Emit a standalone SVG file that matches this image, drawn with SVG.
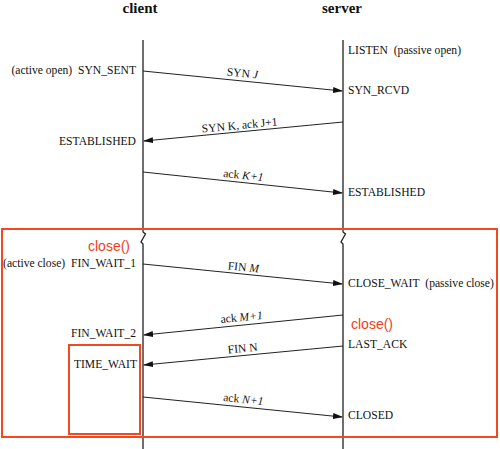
<svg xmlns="http://www.w3.org/2000/svg" width="500" height="449" viewBox="0 0 500 449">
<defs>
<style>
.t{font-family:"Liberation Serif","Times New Roman",serif;font-size:11.6px;fill:#111}
.h{font-family:"Liberation Serif","Times New Roman",serif;font-size:15px;font-weight:bold;fill:#111;text-anchor:middle}
.i{font-style:italic}
.r{text-anchor:end}
.m{text-anchor:middle}
.life{fill:none;stroke:#222;stroke-width:1.3}
.msg{stroke:#222;stroke-width:1;fill:none;marker-end:url(#ah)}
.box{fill:none;stroke:#f04a22;stroke-width:2}
.cl{font-family:"Liberation Sans",Arial,sans-serif;font-size:14px;fill:#f23e17;stroke:#fff;stroke-width:3;paint-order:stroke;stroke-linejoin:round}
</style>
<marker id="ah" markerWidth="10" markerHeight="8" refX="9" refY="4" orient="auto" markerUnits="userSpaceOnUse">
<path d="M0,1 L10,4 L0,7 Z" fill="#111"/>
</marker>
</defs>
<rect width="500" height="449" fill="#fff"/>

<g id="client">
<text class="h" x="140" y="13">client</text>
<path class="life" d="M143,40 V232 L145.5,234 L141,242 L143,244 V449"/>
</g>
<g id="server">
<text class="h" x="342" y="13">server</text>
<path class="life" d="M343,40 V232 L345.5,234 L341,242 L343,244 V449"/>
</g>

<g id="frames">
<rect class="box" x="2" y="229" width="495" height="208"/>
<rect class="box" x="69" y="345" width="71" height="89"/>
</g>

<g id="states">
<text class="t r" x="136" y="74">(active open)&#160; SYN_SENT</text>
<text class="t" x="348" y="54">LISTEN&#160; (passive open)</text>
<text class="t" x="348" y="94">SYN_RCVD</text>
<text class="t r" x="136" y="145">ESTABLISHED</text>
<text class="t" x="348" y="196">ESTABLISHED</text>
<text class="t r" x="136" y="267">(active close)&#160; FIN_WAIT_1</text>
<text class="t" x="348" y="287">CLOSE_WAIT&#160; (passive close)</text>
<text class="t r" x="136" y="337">FIN_WAIT_2</text>
<text class="t" x="348" y="348">LAST_ACK</text>
<text class="t r" x="137" y="368">TIME_WAIT</text>
<text class="t" x="348" y="419">CLOSED</text>
</g>

<g id="calls">
<text class="cl" x="88" y="251">close()</text>
<text class="cl" x="351" y="329">close()</text>
</g>

<g id="connectors">
<line class="msg" x1="143" y1="71" x2="342" y2="91"/>
<line class="msg" x1="343" y1="122" x2="144" y2="141"/>
<line class="msg" x1="143" y1="172" x2="342" y2="193"/>
<line class="msg" x1="143" y1="264" x2="342" y2="284"/>
<line class="msg" x1="343" y1="315" x2="144" y2="335"/>
<line class="msg" x1="343" y1="346" x2="144" y2="365"/>
<line class="msg" x1="143" y1="397" x2="342" y2="417"/>
</g>

<g id="labels">
<text class="t m" transform="translate(242,77) rotate(5.7)">SYN <tspan class="i">J</tspan></text>
<text class="t m" transform="translate(240,129) rotate(-5.4)">SYN K, ack J+1</text>
<text class="t m" transform="translate(243,179) rotate(5.9)">ack <tspan class="i">K+1</tspan></text>
<text class="t m" transform="translate(243,271) rotate(5.7)">FIN <tspan class="i">M</tspan></text>
<text class="t m" transform="translate(242,321) rotate(-5.7)">ack <tspan class="i">M+1</tspan></text>
<text class="t m" transform="translate(243,352) rotate(-5.4)">FIN N</text>
<text class="t m" transform="translate(243,403) rotate(5.7)">ack <tspan class="i">N+1</tspan></text>
</g>
</svg>
